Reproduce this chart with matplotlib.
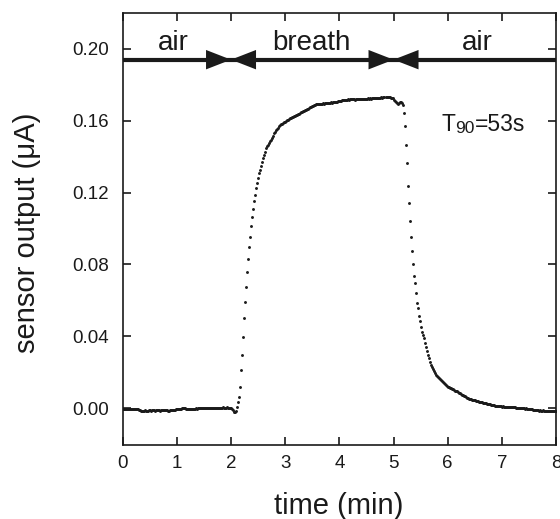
import matplotlib
matplotlib.use("Agg")
import matplotlib.pyplot as plt
import numpy as np

plt.rcParams['font.family'] = ['Liberation Sans', 'DejaVu Sans']

# sensor output (uA), one reading roughly every 1.1 s over 8 min
current = [
    # baseline in air
    -0.0004, -0.0006, -0.0005, -0.0003, -0.0005, -0.0006, -0.0004, -0.0005, -0.0007, -0.0006,
    -0.0005, -0.0004, -0.0006, -0.0007, -0.0005, -0.0006, -0.0009, -0.0012, -0.0014, -0.0013,
    -0.0015, -0.0013, -0.0012, -0.0014, -0.0015, -0.0013, -0.0012, -0.0011, -0.0013, -0.0012,
    -0.0010, -0.0012, -0.0013, -0.0011, -0.0012, -0.0010, -0.0011, -0.0013, -0.0012, -0.0010,
    -0.0011, -0.0012, -0.0010, -0.0009, -0.0011, -0.0013, -0.0014, -0.0012, -0.0010, -0.0011,
    -0.0012, -0.0010, -0.0008, -0.0007, -0.0006, -0.0004, -0.0005, -0.0003, -0.0002, -0.0001,
    0.0000, 0.0001, -0.0001, -0.0003, -0.0002, -0.0004, -0.0003, -0.0005, -0.0004, -0.0003,
    -0.0004, -0.0002, -0.0003, -0.0001, -0.0002, 0.0000, -0.0001, 0.0001, 0.0000, -0.0001,
    0.0000, 0.0002, 0.0001, 0.0000, 0.0001, 0.0002, 0.0001, 0.0000, 0.0001, 0.0002,
    0.0001, 0.0003, 0.0002, 0.0001, 0.0002, 0.0003, 0.0002, 0.0001, 0.0002, 0.0003,
    0.0004, 0.0003, 0.0002, 0.0003, 0.0004, 0.0003, 0.0002, 0.0001, 0.0000, -0.0004,
    # breath in: dip and rise
    -0.0010, -0.0020, -0.0022, -0.0015, 0.0005, 0.0035, 0.0060, 0.0118, 0.0212, 0.0294,
    0.0394, 0.0503, 0.0589, 0.0676, 0.0758, 0.0832, 0.0899, 0.0954, 0.1014, 0.1062,
    0.1107, 0.1153, 0.1187, 0.1224, 0.1255, 0.1280, 0.1307, 0.1328, 0.1348, 0.1372,
    0.1392, 0.1410, 0.1428, 0.1447, 0.1457, 0.1466, 0.1475, 0.1485, 0.1494, 0.1503,
    0.1516, 0.1530, 0.1538, 0.1546, 0.1553, 0.1561, 0.1569, 0.1577, 0.1580, 0.1584,
    0.1588, 0.1591, 0.1595, 0.1599, 0.1603, 0.1606, 0.1610, 0.1614, 0.1617, 0.1619,
    0.1622, 0.1625, 0.1627, 0.1630, 0.1632, 0.1636, 0.1639, 0.1643, 0.1646, 0.1650,
    0.1653, 0.1656, 0.1659, 0.1662, 0.1664, 0.1667, 0.1670, 0.1675, 0.1677, 0.1680,
    0.1683, 0.1686, 0.1689, 0.1692, 0.1694, 0.1693, 0.1695, 0.1694, 0.1696, 0.1695,
    0.1697, 0.1696, 0.1698, 0.1697, 0.1697, 0.1699, 0.1700, 0.1701, 0.1702, 0.1701,
    0.1703, 0.1704, 0.1703, 0.1705, 0.1706, 0.1708, 0.1709, 0.1711, 0.1712, 0.1714,
    0.1715, 0.1716, 0.1717, 0.1716, 0.1718, 0.1719, 0.1718, 0.1720, 0.1719, 0.1721,
    0.1720, 0.1720, 0.1718, 0.1721, 0.1719, 0.1720, 0.1722, 0.1719, 0.1721, 0.1720,
    0.1722, 0.1720, 0.1721, 0.1723, 0.1721, 0.1724, 0.1722, 0.1725, 0.1723, 0.1724,
    0.1725, 0.1725, 0.1727, 0.1726, 0.1728, 0.1727, 0.1729, 0.1728, 0.1730, 0.1729,
    0.1730, 0.1731, 0.1730, 0.1732, 0.1731, 0.1730, 0.1731, 0.1729, 0.1727, 0.1725,
    0.1718, 0.1710, 0.1702, 0.1697, 0.1694, 0.1698, 0.1703, 0.1706, 0.1700, 0.1688,
    # back to air: decay
    0.1645, 0.1573, 0.1465, 0.1363, 0.1238, 0.1144, 0.1043, 0.0954, 0.0876, 0.0802,
    0.0735, 0.0695, 0.0639, 0.0583, 0.0555, 0.0513, 0.0485, 0.0453, 0.0425, 0.0407,
    0.0388, 0.0364, 0.0342, 0.0319, 0.0295, 0.0277, 0.0258, 0.0240, 0.0227, 0.0216,
    0.0206, 0.0195, 0.0184, 0.0178, 0.0173, 0.0167, 0.0161, 0.0156, 0.0150, 0.0145,
    0.0140, 0.0134, 0.0130, 0.0125, 0.0119, 0.0116, 0.0113, 0.0110, 0.0108, 0.0104,
    0.0101, 0.0098, 0.0096, 0.0093, 0.0091, 0.0087, 0.0083, 0.0080, 0.0076, 0.0072,
    0.0069, 0.0065, 0.0062, 0.0058, 0.0054, 0.0052, 0.0051, 0.0049, 0.0048, 0.0046,
    0.0045, 0.0043, 0.0042, 0.0040, 0.0039, 0.0037, 0.0036, 0.0035, 0.0033, 0.0031,
    0.0030, 0.0028, 0.0027, 0.0025, 0.0024, 0.0022, 0.0021, 0.0019, 0.0018, 0.0016,
    0.0015, 0.0013, 0.0012, 0.0013, 0.0011, 0.0012, 0.0010, 0.0011, 0.0009, 0.0010,
    0.0008, 0.0009, 0.0007, 0.0008, 0.0006, 0.0007, 0.0005, 0.0006, 0.0004, 0.0005,
    0.0004, 0.0004, 0.0003, 0.0002, 0.0003, 0.0001, 0.0002, 0.0000, 0.0001, -0.0001,
    0.0000, -0.0002, -0.0001, -0.0003, -0.0002, -0.0004, -0.0005, -0.0006, -0.0007, -0.0008,
    -0.0009, -0.0011, -0.0010, -0.0012, -0.0011, -0.0013, -0.0012, -0.0014, -0.0013, -0.0012,
    -0.0014, -0.0013, -0.0015, -0.0014, -0.0013, -0.0015, -0.0014, -0.0016, -0.0015, -0.0014,
    -0.0015, -0.0014, -0.0015,
]
total_min = 8.0

# phases shown by the arrows at the top
phase_labels = ['air', 'breath', 'air']
phase_edges = [0, 2, 5, 8]
phase_label_x = [0.93, 3.49, 6.55]

xticks = [0, 1, 2, 3, 4, 5, 6, 7, 8]
yticks = [0.00, 0.04, 0.08, 0.12, 0.16, 0.20]

current = np.array(current)
time = np.arange(len(current)) * total_min / (len(current) - 1)

ink = '#1a1a1a'
fig = plt.figure(figsize=(5.6, 5.19), dpi=100)
ax = fig.add_axes([0.2191, 0.1426, 0.7738, 0.8324])

ax.plot(time, current, 'o', ms=2.1, mew=0, color=ink)

ax.set_xlim(0, 8)
ax.set_ylim(-0.0205, 0.2200)
ax.set_xticks(xticks)
ax.set_xticklabels([str(x) for x in xticks])
ax.set_yticks(yticks)
ax.set_yticklabels(['%.2f' % y for y in yticks])
ax.tick_params(direction='in', length=5.8, width=1.2, top=True, right=True,
               labelsize=13.5, colors=ink)
ax.tick_params(axis='x', pad=7)
ax.tick_params(axis='y', pad=10)
for sp in ax.spines.values():
    sp.set_linewidth(1.2)
    sp.set_color(ink)

# phase arrows: a thick shaft plus filled heads
arrow_y = 0.194
ax.plot([phase_edges[0], phase_edges[-1]], [arrow_y, arrow_y], color=ink, lw=3,
        solid_capstyle='butt', clip_on=False)
head = dict(arrowstyle='-|>,head_length=0.9,head_width=0.35', lw=0, color=ink,
            shrinkA=0, shrinkB=0, mutation_scale=20)
e0, e1, e2, e3 = phase_edges
# (tip, tail): air -> 2, breath <- 2 and -> 5, air <- 5
for tip, tail in [(e1, e0), (e1, e2), (e2, e1), (e2, e3)]:
    ax.annotate('', xy=(tip, arrow_y), xytext=(tail, arrow_y),
                arrowprops=head, annotation_clip=False)
for lab, x in zip(phase_labels, phase_label_x):
    ax.text(x, 0.1995, lab, ha='center', va='baseline', fontsize=20, color=ink)

# T90 annotation, subscript kept on the baseline
t1 = ax.text(5.88, 0.1545, 'T', ha='left', va='baseline', fontsize=16.5, color=ink)
t2 = ax.annotate('90', xy=(1, 0), xycoords=t1, ha='left', va='bottom',
                 fontsize=12.5, color=ink)
ax.annotate('=53s', xy=(1, 0), xycoords=t2, ha='left', va='bottom',
            fontsize=16.5, color=ink)

fig.text(27.5 / 560, 1 - 233 / 519, 'sensor output (\u03bcA)', rotation=90,
         ha='center', va='center', fontsize=21, color=ink)
fig.text(339 / 560, 1 - 506 / 519, 'time (min)', ha='center', va='center',
         fontsize=21, color=ink)

fig.savefig('out.png', dpi=100)
